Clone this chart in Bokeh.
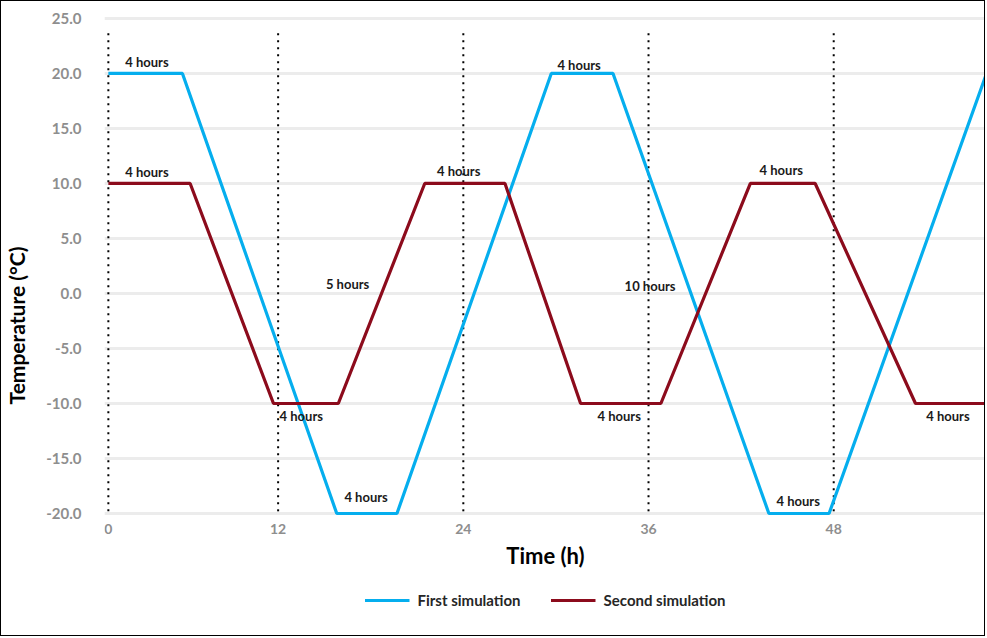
from bokeh.plotting import figure
from bokeh.models import FixedTicker, NumeralTickFormatter, Range1d, Legend, LegendItem
from bokeh.embed import file_html
from bokeh.resources import INLINE
from bokeh.core.properties import value

# ---- data (hours, °C) ----
time_first = [1, 5.8, 15.8, 19.7, 29.7, 33.7, 43.8, 47.7, 57.9]
temp_first = [20, 20, -20, -20, 20, 20, -20, -20, 20]

time_second = [1, 6.3, 11.7, 15.9, 21.5, 26.7, 31.6, 36.8, 42.6, 46.8, 53.3, 57.9]
temp_second = [10, 10, -10, -10, 10, 10, -10, -10, 10, 10, -10, -10]

x_ticks = [1, 12, 24, 36, 48]
x_tick_labels = ["0", "12", "24", "36", "48"]
y_ticks = [-20, -15, -10, -5, 0, 5, 10, 15, 20, 25]

ann_text = ["4 hours", "4 hours", "5 hours", "4 hours", "4 hours", "4 hours",
            "4 hours", "10 hours", "4 hours", "4 hours", "4 hours", "4 hours"]
ann_x = [3.5, 3.5, 16.5, 13.5, 17.7, 23.7, 31.5, 36.1, 34.1, 44.6, 45.7, 55.4]
ann_y = [21.0, 11.0, 0.9, -11.1, -18.5, 11.1, 20.8, 0.7, -11.1, 11.2, -18.9, -11.1]

BLUE = "#05aeee"
RED = "#8c0b1c"
FONT = "Lato"

p = figure(width=985, height=636, output_backend="svg", toolbar_location=None,
           x_range=Range1d(0.75, 57.9), y_range=Range1d(-31.27, 25.45),
           min_border_left=97, min_border_right=0, min_border_top=12, min_border_bottom=0)
p.outline_line_color = None
p.background_fill_color = "white"
p.border_fill_color = "white"

# dotted vertical guides at the time ticks
p.segment(x0=x_ticks, y0=[-19.8] * len(x_ticks), x1=x_ticks, y1=[24.1] * len(x_ticks),
          line_color="#000000", line_width=2, line_dash="2 5")

r1 = p.line(time_first, temp_first, line_color=BLUE, line_width=3.2)
r2 = p.line(time_second, temp_second, line_color=RED, line_width=3.2)

p.text(ann_x, ann_y, text=ann_text, text_font=value(FONT), text_font_style="bold",
       text_font_size="13px", text_color="#1a1a1a", text_align="center",
       text_baseline="middle")

# axes
p.xaxis.fixed_location = -19.75
p.xaxis.ticker = FixedTicker(ticks=x_ticks)
p.xaxis.major_label_overrides = {t: l for t, l in zip(x_ticks, x_tick_labels)}
p.yaxis.ticker = FixedTicker(ticks=y_ticks)
p.yaxis.formatter = NumeralTickFormatter(format="0.0")
for ax in (p.xaxis, p.yaxis):
    ax.axis_line_color = None
    ax.major_tick_line_color = None
    ax.minor_tick_line_color = None
    ax.major_label_text_font = FONT
    ax.major_label_text_font_style = "bold"
    ax.major_label_text_color = "#8e8e8e"
    ax.axis_label_text_font = FONT
    ax.axis_label_text_font_style = "bold"
    ax.axis_label_text_color = "#000000"
p.xaxis.major_label_text_font_size = "14px"
p.yaxis.major_label_text_font_size = "15px"
p.xaxis.major_label_standoff = 7
p.yaxis.major_label_standoff = 17
p.xaxis.axis_label = "Time (h)"
p.yaxis.axis_label = "Temperature (°C)"
p.xaxis.axis_label_text_font_size = "22px"
p.yaxis.axis_label_text_font_size = "21px"
p.xaxis.axis_label_standoff = 5
p.yaxis.axis_label_standoff = 14

# grids
p.ygrid.ticker = FixedTicker(ticks=y_ticks)
p.ygrid.grid_line_color = "#ececec"
p.ygrid.grid_line_width = 3
p.xgrid.visible = False

legend = Legend(items=[LegendItem(label="First simulation", renderers=[r1]),
                       LegendItem(label="Second simulation", renderers=[r2])],
                orientation="horizontal", location="bottom_center",
                glyph_width=45, glyph_height=20, label_standoff=8, spacing=30,
                padding=4, margin=27, border_line_color=None,
                background_fill_alpha=0,
                label_text_font=FONT, label_text_font_style="bold",
                label_text_font_size="15px", label_text_color="#262626")
p.add_layout(legend)

p.styles = {"border": "1px solid #000"}

open("out.html", "w").write(file_html(p, INLINE))
